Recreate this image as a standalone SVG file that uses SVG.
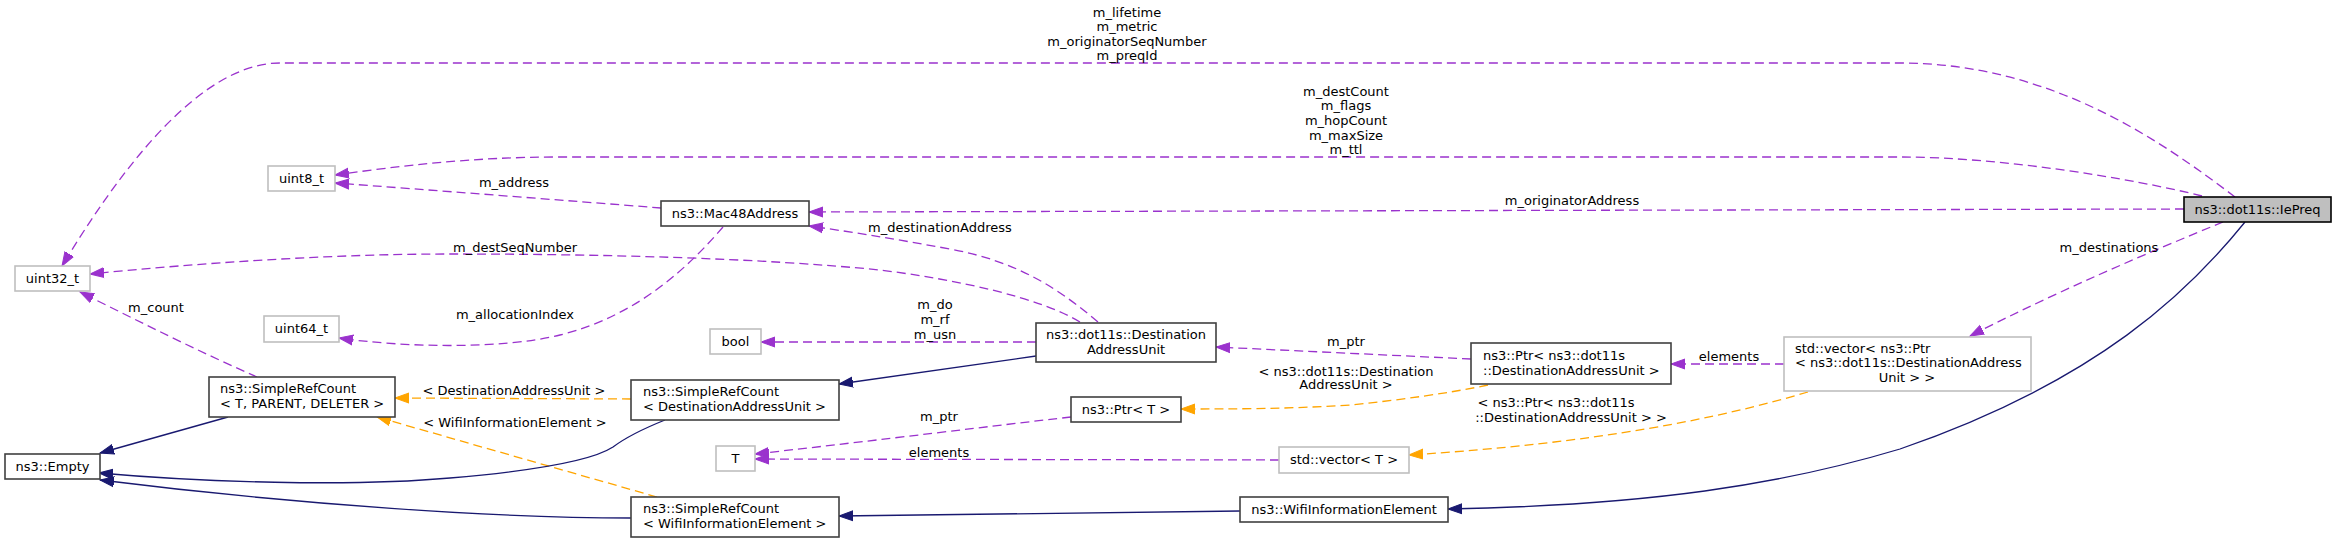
<svg xmlns="http://www.w3.org/2000/svg" width="2336" height="543" viewBox="0 0 2336 543">
<style>
text{font-family:"DejaVu Sans","Liberation Sans",sans-serif;font-size:13px;fill:#000}
.c{text-anchor:middle}
.n rect{fill:#fff;stroke:#404040;stroke-width:1.6}
.x rect{fill:#fff;stroke:#bfbfbf;stroke-width:1.6}
.root rect{fill:#bfbfbf;stroke:#000;stroke-width:1.6}
.u{fill:none;stroke:#9a32cd;stroke-width:1.3;stroke-dasharray:9,5;marker-end:url(#ap)}
.t{fill:none;stroke:#ffa500;stroke-width:1.3;stroke-dasharray:9,5;marker-end:url(#ao)}
.i{fill:none;stroke:#191970;stroke-width:1.3;marker-end:url(#ab)}
</style>
<defs>
<marker id="ap" markerUnits="userSpaceOnUse" markerWidth="16" markerHeight="12" refX="14" refY="5" orient="auto" viewBox="0 0 16 10"><path d="M0,0 L14,5 L0,10 z" fill="#9a32cd" stroke="#9a32cd"/></marker>
<marker id="ao" markerUnits="userSpaceOnUse" markerWidth="16" markerHeight="12" refX="14" refY="5" orient="auto" viewBox="0 0 16 10"><path d="M0,0 L14,5 L0,10 z" fill="#ffa500" stroke="#ffa500"/></marker>
<marker id="ab" markerUnits="userSpaceOnUse" markerWidth="16" markerHeight="12" refX="14" refY="5" orient="auto" viewBox="0 0 16 10"><path d="M0,0 L14,5 L0,10 z" fill="#191970" stroke="#191970"/></marker>
</defs>
<rect width="2336" height="543" fill="#fff"/>
<g id="connectors">
<path class="u" d="M2235,197 C2160,140 2050,63 1900,63 L280,63 C200,63 120,170 62,266"/>
<path class="u" d="M2202,196 C2130,178 2000,157 1900,157 L560,157 C470,157 400,166 335,175"/>
<path class="u" d="M2184,209 L809,212"/>
<path class="u" d="M2223,222 C2150,252 2060,290 1970,336"/>
<path class="i" d="M2245,222 C2190,290 2100,380 1900,449 C1780,485 1650,505 1448,509"/>
<path class="u" d="M661,208 C560,200 430,190 335,183"/>
<path class="u" d="M1080,322 C1040,298 960,280 880,270 C760,258 600,254 450,254 C330,254 200,263 90,274"/>
<path class="u" d="M257,377 C200,352 140,322 80,292"/>
<path class="u" d="M1098,322 C1060,290 1020,262 950,249 C900,240 860,233 809,226"/>
<path class="u" d="M723,227 C690,265 640,315 560,335 C500,350 400,347 339,338"/>
<path class="u" d="M1036,342 L761,342"/>
<path class="i" d="M1036,356 L839,384"/>
<path class="t" d="M631,399 L395,398"/>
<path class="t" d="M657,497 L377,417"/>
<path class="i" d="M228,417 L100,453"/>
<path class="i" d="M665,420 C640,430 625,438 613,447 C590,462 520,472 450,478 C350,487 200,482 99,473"/>
<path class="i" d="M631,518 C500,518 300,505 100,480"/>
<path class="i" d="M1240,511 L839,516"/>
<path class="u" d="M1471,359 L1216,347"/>
<path class="t" d="M1488,385 C1450,393 1400,400 1350,405 C1290,409 1230,409 1181,409"/>
<path class="u" d="M1071,417 C1000,425 880,440 755,454"/>
<path class="u" d="M1279,460 L755,459"/>
<path class="u" d="M1784,364 L1671,364"/>
<path class="t" d="M1808,392 C1720,418 1600,443 1409,455"/>
<text class="c" x="1127" y="16.5">m_lifetime</text>
<text class="c" x="1127" y="31">m_metric</text>
<text class="c" x="1127" y="45.5">m_originatorSeqNumber</text>
<text class="c" x="1127" y="60">m_preqId</text>
<text class="c" x="1346" y="95.5">m_destCount</text>
<text class="c" x="1346" y="110">m_flags</text>
<text class="c" x="1346" y="125">m_hopCount</text>
<text class="c" x="1346" y="139.5">m_maxSize</text>
<text class="c" x="1346" y="154">m_ttl</text>
<text class="c" x="1572" y="204.5">m_originatorAddress</text>
<text class="c" x="2109" y="252">m_destinations</text>
<text class="c" x="514" y="187">m_address</text>
<text class="c" x="515" y="252">m_destSeqNumber</text>
<text class="c" x="940" y="232">m_destinationAddress</text>
<text class="c" x="515" y="319">m_allocationIndex</text>
<text class="c" x="156" y="312">m_count</text>
<text class="c" x="935" y="308.5">m_do</text>
<text class="c" x="935" y="323.5">m_rf</text>
<text class="c" x="935" y="338.5">m_usn</text>
<text class="c" x="514" y="395">&lt; DestinationAddressUnit &gt;</text>
<text class="c" x="515" y="427">&lt; WifiInformationElement &gt;</text>
<text class="c" x="1346" y="346">m_ptr</text>
<text class="c" x="1346" y="375.5">&lt; ns3::dot11s::Destination</text>
<text class="c" x="1346" y="389">AddressUnit &gt;</text>
<text class="c" x="939" y="420.5">m_ptr</text>
<text class="c" x="939" y="456.5">elements</text>
<text class="c" x="1729" y="360.5">elements</text>
<text class="c" x="1556" y="406.5">&lt; ns3::Ptr&lt; ns3::dot11s</text>
<text class="c" x="1571" y="421.5">::DestinationAddressUnit &gt; &gt;</text>
</g>
<g id="node-iepreq" class="root"><rect x="2184" y="197" width="147" height="25"/><text class="c" x="2257.5" y="214">ns3::dot11s::IePreq</text></g>
<g id="node-uint8" class="x"><rect x="268" y="166" width="67" height="25"/><text class="c" x="301.5" y="183">uint8_t</text></g>
<g id="node-uint32" class="x"><rect x="15" y="266" width="75" height="25"/><text class="c" x="52.5" y="283">uint32_t</text></g>
<g id="node-uint64" class="x"><rect x="264" y="316" width="75" height="26"/><text class="c" x="301.5" y="333">uint64_t</text></g>
<g id="node-bool" class="x"><rect x="710" y="329" width="51" height="25"/><text class="c" x="735.5" y="346">bool</text></g>
<g id="node-T" class="x"><rect x="716" y="446" width="39" height="25"/><text class="c" x="735.5" y="463">T</text></g>
<g id="node-mac48" class="n"><rect x="661" y="201" width="148" height="25"/><text class="c" x="735" y="218">ns3::Mac48Address</text></g>
<g id="node-src-tpd" class="n"><rect x="209" y="377" width="186" height="40"/><text x="220" y="393">ns3::SimpleRefCount</text><text x="220" y="408">&lt; T, PARENT, DELETER &gt;</text></g>
<g id="node-empty" class="n"><rect x="5" y="454" width="95" height="25"/><text class="c" x="52.5" y="471">ns3::Empty</text></g>
<g id="node-src-dau" class="n"><rect x="631" y="380" width="208" height="40"/><text x="643" y="396">ns3::SimpleRefCount</text><text x="643" y="411">&lt; DestinationAddressUnit &gt;</text></g>
<g id="node-src-wie" class="n"><rect x="631" y="497" width="208" height="40"/><text x="643" y="513">ns3::SimpleRefCount</text><text x="643" y="528">&lt; WifiInformationElement &gt;</text></g>
<g id="node-dau" class="n"><rect x="1036" y="323" width="180" height="39"/><text class="c" x="1126" y="339">ns3::dot11s::Destination</text><text class="c" x="1126" y="354">AddressUnit</text></g>
<g id="node-ptr-t" class="n"><rect x="1071" y="397" width="110" height="25"/><text class="c" x="1126" y="414">ns3::Ptr&lt; T &gt;</text></g>
<g id="node-vector-t" class="x"><rect x="1279" y="447" width="130" height="26"/><text class="c" x="1344" y="464">std::vector&lt; T &gt;</text></g>
<g id="node-wie" class="n"><rect x="1240" y="497" width="208" height="25"/><text class="c" x="1344" y="514">ns3::WifiInformationElement</text></g>
<g id="node-ptr-dau" class="n"><rect x="1471" y="343" width="200" height="41"/><text x="1483" y="360">ns3::Ptr&lt; ns3::dot11s</text><text x="1483" y="375">::DestinationAddressUnit &gt;</text></g>
<g id="node-vector-ptr" class="x"><rect x="1784" y="337" width="247" height="54"/><text x="1795" y="353">std::vector&lt; ns3::Ptr</text><text x="1795" y="367">&lt; ns3::dot11s::DestinationAddress</text><text class="c" x="1907" y="382">Unit &gt; &gt;</text></g>
</svg>
